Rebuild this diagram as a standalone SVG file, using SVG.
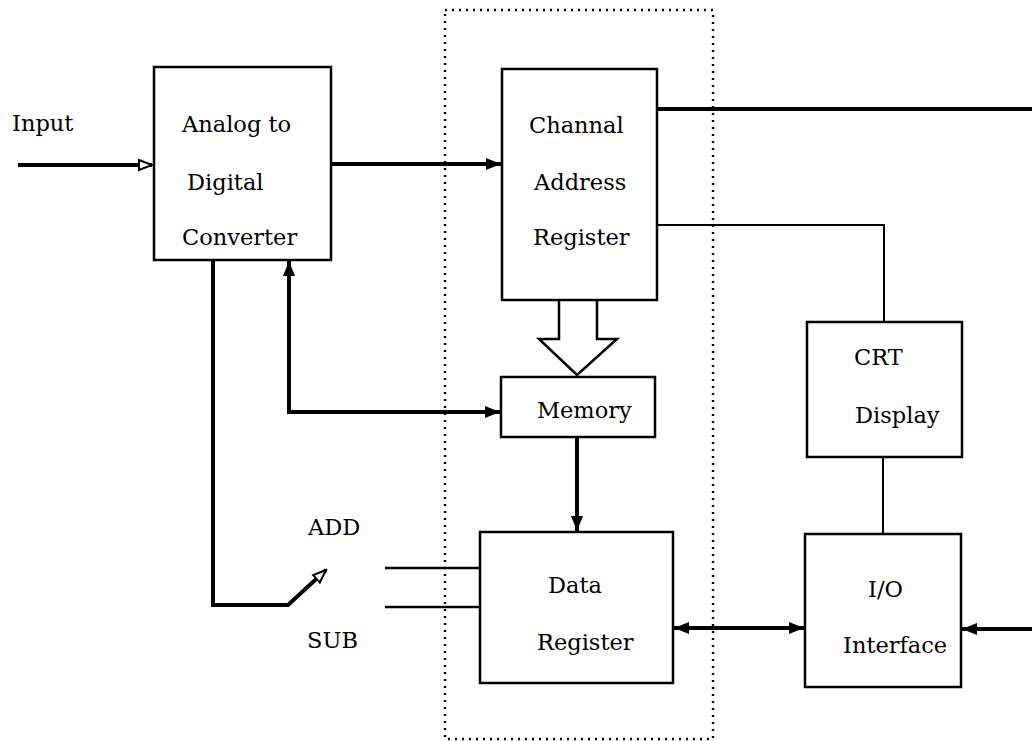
<svg xmlns="http://www.w3.org/2000/svg" width="1032" height="741" viewBox="0 0 1032 741">
  <style>
    .box { fill: #fff; stroke: #000; stroke-width: 2.5; }
    .lbl { font-family: "DejaVu Serif", "Liberation Serif", serif; font-size: 22.5px; fill: #000; }
    .thick { fill: none; stroke: #000; stroke-width: 4; }
    .med { fill: none; stroke: #000; stroke-width: 2.5; }
    .thin { fill: none; stroke: #000; stroke-width: 2; }
    .frame { fill: none; stroke: #000; stroke-width: 2.4; stroke-dasharray: 2 5; }
  </style>
  <defs>
    <marker id="ah" markerUnits="userSpaceOnUse" markerWidth="16" markerHeight="14" refX="15" refY="7" orient="auto-start-reverse">
      <path d="M0,1 L15,7 L0,13 Z" fill="#000"/>
    </marker>
    <marker id="ah-open" markerUnits="userSpaceOnUse" markerWidth="16" markerHeight="14" refX="14" refY="7" orient="auto">
      <path d="M1,2 L14,7 L1,12 Z" fill="#fff" stroke="#000" stroke-width="2"/>
    </marker>
  </defs>

  <!-- memory subsystem boundary -->
  <rect class="frame" x="445" y="10" width="268" height="729"/>

  <g id="connectors">
    <path class="thick" d="M18,165 H152" marker-end="url(#ah-open)"/>
    <path class="thick" d="M331,164 H501" marker-end="url(#ah)"/>
    <path class="thick" d="M657,109 H1032"/>
    <path class="thin" d="M657,225 H884 V322"/>
    <path class="thin" d="M883,457 V534"/>
    <path class="med" d="M559,300 V339 H539 L577,375 L617,339 H597 V300" fill="#fff"/>
    <path class="thick" d="M577,437 V531" marker-end="url(#ah)"/>
    <path class="thick" d="M289,261 V412 H500" marker-start="url(#ah)" marker-end="url(#ah)"/>
    <path class="thick" d="M213,260 V605 H288 L326,570" marker-end="url(#ah-open)"/>
    <path class="med" d="M385,568 H480"/>
    <path class="med" d="M385,607 H480"/>
    <path class="thick" d="M674,628 H804" marker-start="url(#ah)" marker-end="url(#ah)"/>
    <path class="thick" d="M1032,629 H962" marker-end="url(#ah)"/>
  </g>

  <text class="lbl" x="12" y="131">Input</text>
  <text class="lbl" x="308" y="535">ADD</text>
  <text class="lbl" x="307" y="648">SUB</text>

  <g id="adc">
    <rect class="box" x="154" y="67" width="177" height="193"/>
    <text class="lbl" x="182" y="132">Analog to</text>
    <text class="lbl" x="187" y="190">Digital</text>
    <text class="lbl" x="182" y="245">Converter</text>
  </g>

  <g id="channel-address-register">
    <rect class="box" x="502" y="69" width="155" height="231"/>
    <text class="lbl" x="529" y="133">Channal</text>
    <text class="lbl" x="534" y="190">Address</text>
    <text class="lbl" x="533" y="245">Register</text>
  </g>

  <g id="memory">
    <rect class="box" x="501" y="377" width="154" height="60"/>
    <text class="lbl" x="537" y="418">Memory</text>
  </g>

  <g id="data-register">
    <rect class="box" x="480" y="532" width="193" height="151"/>
    <text class="lbl" x="548" y="593">Data</text>
    <text class="lbl" x="537" y="650">Register</text>
  </g>

  <g id="crt-display">
    <rect class="box" x="807" y="322" width="155" height="135"/>
    <text class="lbl" x="854" y="365">CRT</text>
    <text class="lbl" x="855" y="423">Display</text>
  </g>

  <g id="io-interface">
    <rect class="box" x="805" y="534" width="156" height="153"/>
    <text class="lbl" x="868" y="597">I/O</text>
    <text class="lbl" x="843" y="653">Interface</text>
  </g>
</svg>
